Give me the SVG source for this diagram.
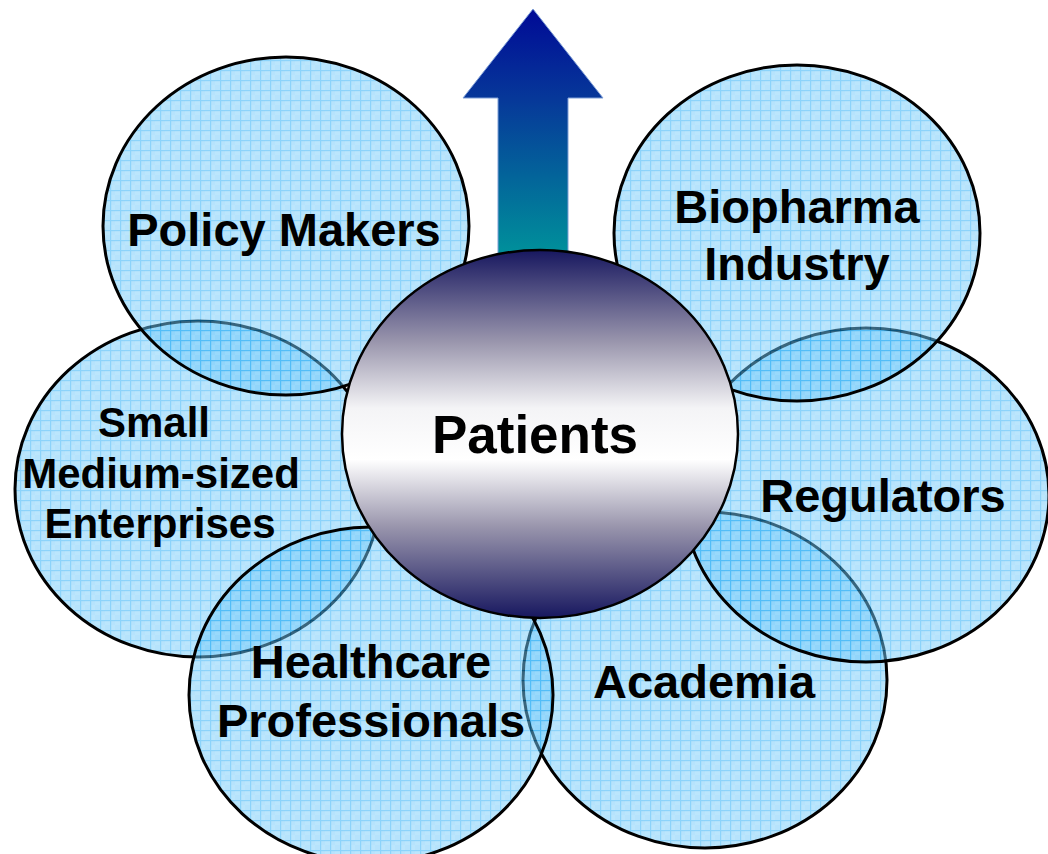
<svg xmlns="http://www.w3.org/2000/svg" width="1048" height="854" viewBox="0 0 1048 854">
  <defs>
    <pattern id="grid" patternUnits="userSpaceOnUse" width="10" height="10">
      <rect width="10" height="10" fill="#78cdfa"/>
      <rect x="0" y="0" width="5" height="5" fill="#6ec8f9"/>
      <rect x="5" y="5" width="5" height="5" fill="#6ec8f9"/>
      <rect x="0" y="0" width="10" height="1.2" fill="#1aa8f5"/>
      <rect x="0" y="0" width="1.2" height="10" fill="#1aa8f5"/>
    </pattern>
    <linearGradient id="patGrad" x1="0" y1="0" x2="0" y2="1">
      <stop offset="0" stop-color="#17175f"/>
      <stop offset="0.25" stop-color="#9a96ad"/>
      <stop offset="0.43" stop-color="#f4f4f6"/>
      <stop offset="0.57" stop-color="#ffffff"/>
      <stop offset="0.75" stop-color="#9a96ad"/>
      <stop offset="1" stop-color="#17175f"/>
    </linearGradient>
    <linearGradient id="arrowGrad" x1="0" y1="9" x2="0" y2="255" gradientUnits="userSpaceOnUse">
      <stop offset="0" stop-color="#000a96"/>
      <stop offset="0.36" stop-color="#063799"/>
      <stop offset="1" stop-color="#00919b"/>
    </linearGradient>
    <style>
      .bubble { fill: url(#grid); fill-opacity: 0.5; stroke: #000; stroke-width: 3; }
      .lbl { font-family: "Liberation Sans", Arial, sans-serif; font-weight: bold; font-size: 47px; fill: #000; text-anchor: middle; }
      .sme { font-size: 42px; }
      .center { font-size: 53px; }
    </style>
  </defs>

  <g id="node-academia">
    <ellipse class="bubble" cx="705" cy="680" rx="182" ry="168"/>
    <text class="lbl" x="704" y="698">Academia</text>
  </g>
  <g id="node-regulators">
    <ellipse class="bubble" cx="866" cy="495" rx="183" ry="167"/>
    <text class="lbl" x="883" y="512">Regulators</text>
  </g>
  <g id="node-biopharma">
    <ellipse class="bubble" cx="797" cy="233" rx="183" ry="168"/>
    <text class="lbl" x="797" y="223">Biopharma</text>
    <text class="lbl" x="797" y="280">Industry</text>
  </g>
  <g id="node-sme">
    <ellipse class="bubble" cx="198" cy="489" rx="183" ry="168"/>
    <text class="lbl sme" x="154" y="437">Small</text>
    <text class="lbl sme" x="161" y="488">Medium-sized</text>
    <text class="lbl sme" x="160" y="538">Enterprises</text>
  </g>
  <g id="node-policy">
    <ellipse class="bubble" cx="286" cy="226" rx="183" ry="169"/>
    <text class="lbl" x="284" y="246">Policy Makers</text>
  </g>
  <g id="node-healthcare">
    <ellipse class="bubble" cx="371" cy="695" rx="182" ry="168"/>
    <text class="lbl" x="371" y="678">Healthcare</text>
    <text class="lbl" x="371" y="737">Professionals</text>
  </g>

  <g id="connectors">
    <polygon points="533,9 603,98 568,98 568,262 498,262 498,98 463,98" fill="url(#arrowGrad)" stroke="#7f9fd6" stroke-width="1"/>
  </g>

  <g id="node-patients">
    <ellipse cx="540" cy="434" rx="198" ry="184" fill="url(#patGrad)" stroke="#000" stroke-width="2.5"/>
    <text class="lbl center" x="535" y="453">Patients</text>
  </g>
</svg>
